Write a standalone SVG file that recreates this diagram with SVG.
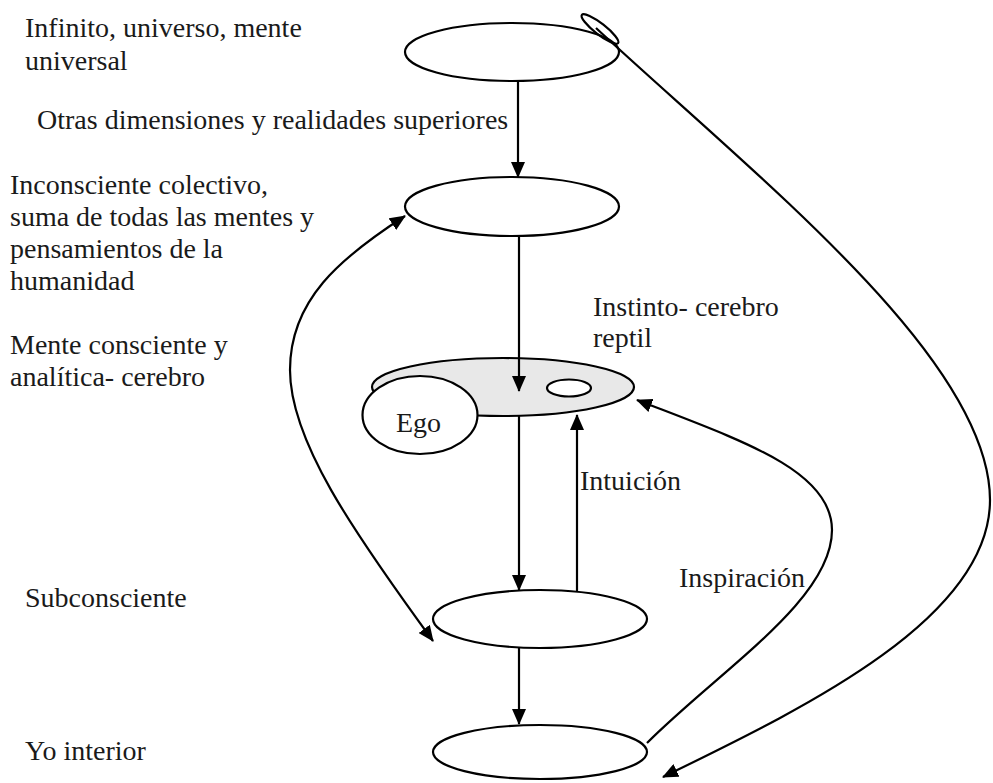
<svg xmlns="http://www.w3.org/2000/svg" width="993" height="783" viewBox="0 0 993 783">
<defs>
<marker id="ah" markerUnits="userSpaceOnUse" markerWidth="16" markerHeight="14" refX="15" refY="7" orient="auto-start-reverse" viewBox="0 0 16 14">
<path d="M0,0 L16,7 L0,14 Z" fill="#000"/>
</marker>
</defs>
<rect width="993" height="783" fill="#fff"/>

<g id="labels" font-family="Liberation Serif" font-size="28" fill="#1a1a1a">
<text x="25" y="37">Infinito, universo, mente</text>
<text x="25" y="70">universal</text>
<text x="37" y="129">Otras dimensiones y realidades superiores</text>
<text x="10" y="194">Inconsciente colectivo,</text>
<text x="10" y="226">suma de todas las mentes y</text>
<text x="10" y="258">pensamientos de la</text>
<text x="10" y="290">humanidad</text>
<text x="10" y="354">Mente consciente y</text>
<text x="10" y="386">analítica- cerebro</text>
<text x="593" y="316">Instinto- cerebro</text>
<text x="593" y="347">reptil</text>
<text x="580" y="490">Intuición</text>
<text x="679" y="587">Inspiración</text>
<text x="25" y="607">Subconsciente</text>
<text x="25" y="760">Yo interior</text>
</g>

<g id="nodes" stroke="#000" stroke-width="2.2" fill="#fff">
<g id="infinito">
<ellipse cx="512" cy="52" rx="107" ry="29"/>
<ellipse cx="600" cy="29" rx="23" ry="5.5" fill="none" transform="rotate(38 600 29)"/>
</g>
<g id="inconsciente">
<ellipse cx="512" cy="206.5" rx="107" ry="29.5"/>
</g>
<g id="consciente">
<ellipse cx="503" cy="387" rx="131" ry="29" fill="#e8e8e8"/>
<ellipse cx="569" cy="388" rx="22" ry="8.5"/>
</g>
<g id="ego">
<ellipse cx="420" cy="415" rx="57.5" ry="39"/>
<text x="396" y="432" font-family="Liberation Serif" font-size="28" fill="#1a1a1a" stroke="none">Ego</text>
</g>
<g id="subconsciente">
<ellipse cx="540" cy="619" rx="107" ry="29"/>
</g>
<g id="yo">
<ellipse cx="540" cy="752" rx="107" ry="27"/>
</g>
</g>

<g id="connectors" fill="none" stroke="#000" stroke-width="2.2">
<path d="M518,81 L518,177" marker-end="url(#ah)"/>
<path d="M519,236 L519,391" marker-end="url(#ah)"/>
<path d="M519,416 L519,590" marker-end="url(#ah)"/>
<path d="M577,591 L577,415" marker-end="url(#ah)"/>
<path d="M519,648 L519,724" marker-end="url(#ah)"/>
<path d="M405,216 C340,258 290,300 290,370 C290,440 352,530 433,641" marker-start="url(#ah)" marker-end="url(#ah)"/>
<path d="M596,28 C760,180 990,360 990,500 C990,620 800,710 663,777" marker-end="url(#ah)"/>
<path d="M647,743 C720,670 832,600 832,530 C832,470 740,440 637,400" marker-end="url(#ah)"/>
</g>
</svg>
